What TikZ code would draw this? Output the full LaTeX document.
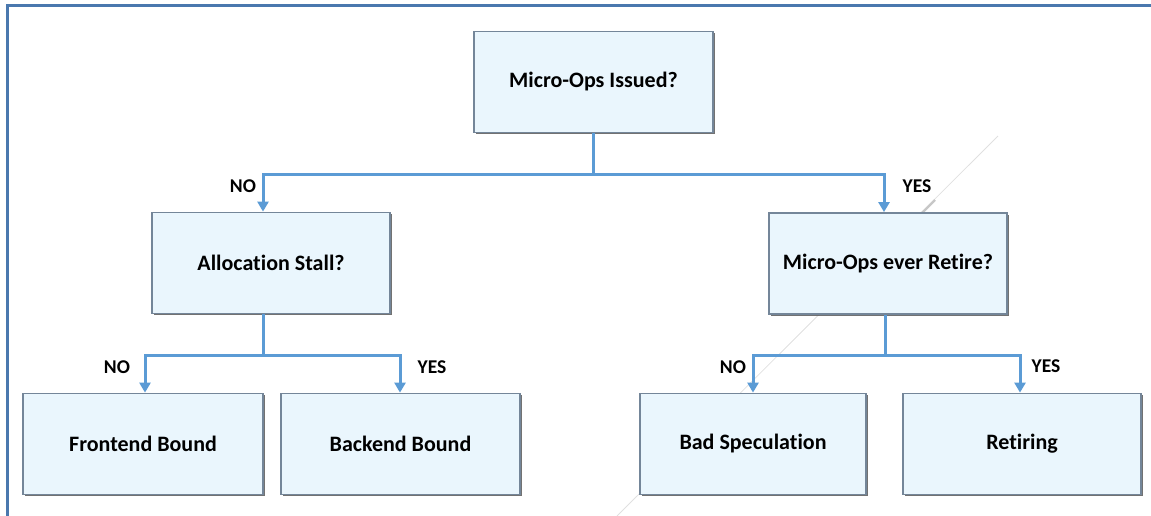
\documentclass[tikz,border=0pt]{standalone}
\usepackage{fontspec}
\setmainfont[Ligatures=NoCommon]{Carlito}
\usetikzlibrary{arrows.meta,shadows,calc}
\definecolor{framecol}{HTML}{4A78AE}
\definecolor{linkcol}{HTML}{5B9BD5}
\definecolor{boxfill}{HTML}{EAF6FD}
\definecolor{boxedge}{HTML}{748699}
\tikzset{
  decision/.style={draw=boxedge, line width=1.8pt, fill=boxfill,
    minimum height=101pt, inner sep=0pt,
    font=\fontsize{22}{26}\selectfont\bfseries,
    drop shadow={shadow xshift=1.8pt, shadow yshift=-1.8pt, fill=black!65, opacity=0.85}},
  link/.style={draw=linkcol, line width=3pt},
  linkarrow/.style={link, -{Triangle[length=10pt,width=11pt]}},
  answer/.style={font=\fontsize{19.5}{22}\selectfont\bfseries, inner sep=0pt},
}
\begin{document}
\begin{tikzpicture}[x=1pt,y=-1pt]
  \useasboundingbox (0,0) rectangle (1151,516);
  % faint diagonal stroke behind the tree
  \draw[black!12, line width=0.8pt] (998,136) -- (617,516);
  \draw[black!22, line width=2.2pt] (935,200) -- (922,213);

  % frame on the top and left
  \draw[framecol, line width=3pt] (1151,5.5) -- (7.5,5.5) -- (7.5,516);

  % decision boxes
  \node[decision, minimum width=239pt] (issued)  at (593.5,82)  {Micro-Ops Issued?};
  \node[decision, minimum width=238pt] (alloc)   at (271,263)   {Allocation Stall?};
  \node[decision, minimum width=238pt] (retire)  at (888,263.5) {Micro-Ops ever Retire?};
  \node[decision, minimum width=240pt] (front)   at (143,444)   {Frontend Bound};
  \node[decision, minimum width=239pt] (back)    at (400.5,444) {Backend Bound};
  \node[decision, minimum width=226pt] (badspec) at (753,444)   {Bad Speculation};
  \node[decision, minimum width=238pt] (retiring) at (1022,444) {Retiring};

  % connectors
  \draw[link] (issued.south) -- ++(0,41) coordinate (j1);
  \draw[linkarrow] (j1) -| ([xshift=-8pt]alloc.north);
  \draw[linkarrow] (j1) -| ([xshift=-4pt]retire.north);

  \draw[link] ([xshift=-8pt]alloc.south) -- ++(0,41) coordinate (j2);
  \draw[linkarrow] (j2) -| ([xshift=2pt]front.north);
  \draw[linkarrow] (j2) -| ([xshift=-0.5pt]back.north);

  \draw[link] ([xshift=-3pt]retire.south) -- ++(0,41) coordinate (j3);
  \draw[linkarrow] (j3) -| (badspec.north);
  \draw[linkarrow] (j3) -| ([xshift=-2pt]retiring.north);

  % answers
  \node[answer] (noA)  at (243,186)  {NO};
  \node[answer] (yesA) at (917,186)  {YES};
  \node[answer] (noB)  at (117,367)  {NO};
  \node[answer] (yesB) at (432,367)  {YES};
  \node[answer] (noC)  at (733,367)  {NO};
  \node[answer] (yesC) at (1046,366) {YES};
\end{tikzpicture}
\end{document}
